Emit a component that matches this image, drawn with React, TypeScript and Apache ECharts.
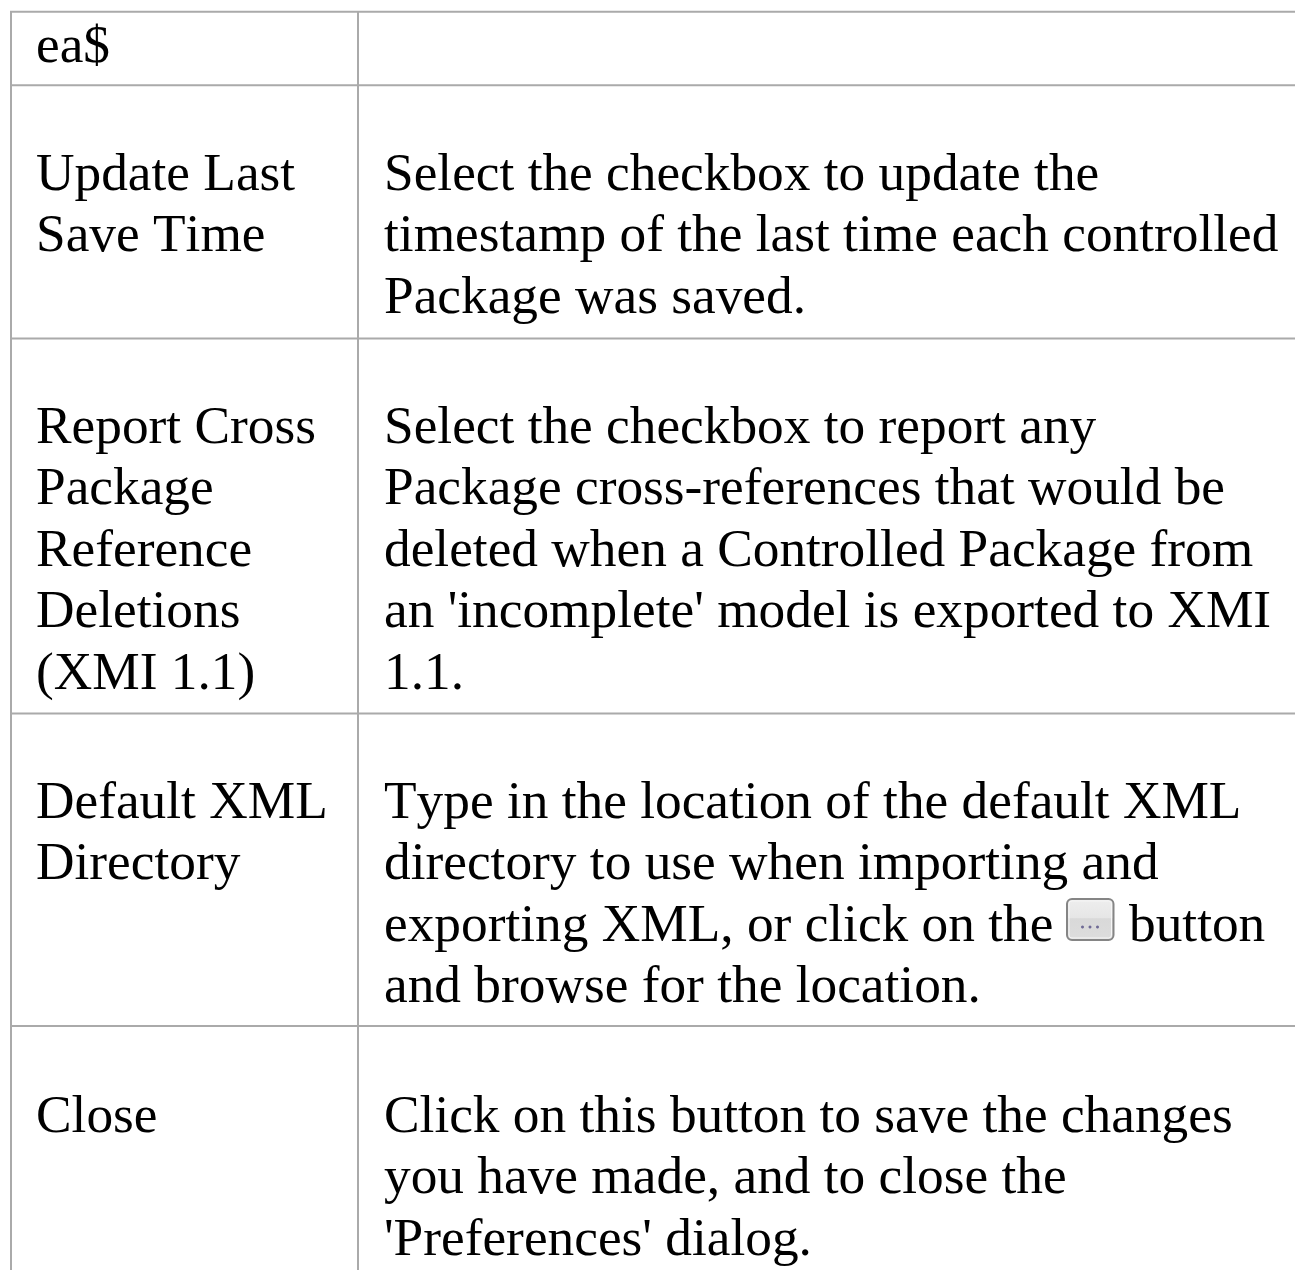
import React, { useEffect, useRef } from "react";
import * as echarts from "echarts";

const rowLabels: string[][] = [
  ["ea$"],
  ["Update Last", "Save Time"],
  ["Report Cross", "Package", "Reference", "Deletions", "(XMI 1.1)"],
  ["Default XML", "Directory"],
  ["Close"],
];

const rowDescriptions: string[][] = [
  [],
  ["Select the checkbox to update the", "timestamp of the last time each controlled", "Package was saved."],
  [
    "Select the checkbox to report any",
    "Package cross-references that would be",
    "deleted when a Controlled Package from",
    "an 'incomplete' model is exported to XMI",
    "1.1.",
  ],
  [
    "Type in the location of the default XML",
    "directory to use when importing and",
    "exporting XML, or click on the",
    "and browse for the location.",
  ],
  ["Click on this button to save the changes", "you have made, and to close the", "'Preferences' dialog."],
];

const afterButtonText = "button";

const ruleYs = [11.8, 85.2, 338.4, 713.5, 1026];
const firstBaselines = [62, 190, 443, 818, 1132];
const lineStep = 61.45;
const FONT_SIZE = 53.33;
const BASELINE_OFFSET = 45;

export default function App() {
  const ref = useRef<HTMLDivElement>(null);
  useEffect(() => {
    const chart = echarts.init(ref.current!, null, { renderer: "svg" });
    const els: any[] = [];
    const lineStyle = { stroke: "#aaaaaa", lineWidth: 2 };
    ruleYs.forEach((y) =>
      els.push({ type: "line", shape: { x1: 10, y1: y, x2: 1295, y2: y }, style: lineStyle })
    );
    ruleYs.forEach((_, i) => {
      const y1 = ruleYs[i];
      const y2 = i + 1 < ruleYs.length ? ruleYs[i + 1] : 1270;
      els.push({ type: "line", shape: { x1: 11, y1, x2: 11, y2 }, style: lineStyle });
      els.push({ type: "line", shape: { x1: 358, y1, x2: 358, y2 }, style: lineStyle });
    });
    const font = `${FONT_SIZE}px "Liberation Serif"`;
    const addText = (lines: string[], x: number, base: number) =>
      lines.forEach((t, j) =>
        els.push({
          type: "text",
          x,
          y: Math.round(base + j * lineStep) - BASELINE_OFFSET,
          style: { text: t, font, fill: "#000000", textAlign: "left", textVerticalAlign: "top" },
        })
      );
    rowLabels.forEach((l, i) => addText(l, 36, firstBaselines[i]));
    rowDescriptions.forEach((l, i) => addText(l, 384, firstBaselines[i]));
    addText([afterButtonText], 1129, firstBaselines[3] + 2 * lineStep);
    // the "..." button glyph
    els.push({
      type: "rect",
      shape: { x: 1067, y: 899, width: 46.5, height: 41, r: 5 },
      style: {
        fill: new echarts.graphic.LinearGradient(0, 0, 0, 1, [
          { offset: 0, color: "#eeeeee" },
          { offset: 0.46, color: "#e6e6e6" },
          { offset: 0.48, color: "#d9d9d9" },
          { offset: 1, color: "#dddddd" },
        ]),
        stroke: "#858585",
        lineWidth: 2,
      },
    });
    els.push({
      type: "rect",
      shape: { x: 1069, y: 901, width: 42.5, height: 37, r: 3 },
      style: { fill: "none", stroke: "#f6f6f6", lineWidth: 1 },
    });
    [1082.5, 1090, 1097.5].forEach((x) =>
      els.push({ type: "circle", shape: { cx: x, cy: 927, r: 1.5 }, style: { fill: "#6f6a95" } })
    );
    chart.setOption({ animation: false, backgroundColor: "#ffffff", graphic: { elements: els } });
    return () => chart.dispose();
  }, []);
  return (
    <>
      <style>{"svg text { font-kerning: none !important; text-rendering: optimizeSpeed; }"}</style>
      <div ref={ref} style={{ position: "fixed", left: 0, top: 0, width: 1295, height: 1270 }} />
    </>
  );
}
